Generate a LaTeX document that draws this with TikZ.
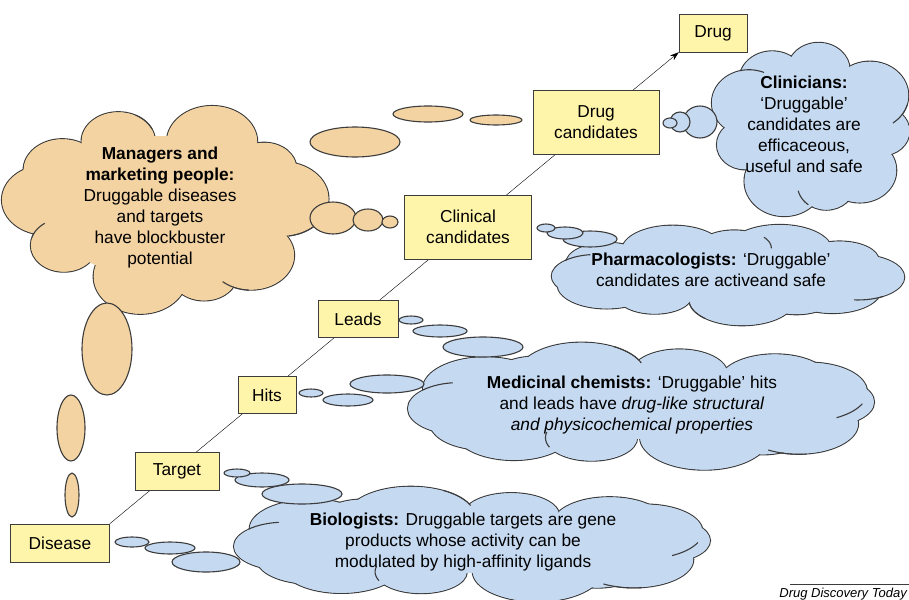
\documentclass[tikz,border=0pt]{standalone}
\usepackage{fontspec}
\setmainfont{Liberation Sans}
\usepackage{tikz}
\usetikzlibrary{positioning,arrows.meta}
\pgfdeclarelayer{background}
\pgfdeclarelayer{foreground}
\pgfsetlayers{background,main,foreground}
\definecolor{boxyellow}{RGB}{255,245,170}
\definecolor{tanfill}{RGB}{243,211,162}
\definecolor{bluefill}{RGB}{197,217,241}
\definecolor{edgegray}{RGB}{60,60,60}

% cloud: colour, centre x, centre y, half axes of puff ring, puffs, puff radii, crease phase
\newcommand{\drawcloud}[9]{%
	\foreach \i in {1,...,#6} {
		\pgfmathsetmacro\pang{360*\i/#6 + 7*sin(\i*97)}
		\pgfmathsetmacro\psz{1+0.18*sin(\i*151)}
		\draw[draw=edgegray, line width=1.1pt, fill=#1] ({#2+#4*cos(\pang)},{#3+#5*sin(\pang)}) ellipse ({#7*\psz pt} and {#8*\psz pt});
	}
	\fill[#1] (#2,#3) ellipse ({#4 pt} and {#5 pt});
	\foreach \i in {1,...,#6} {
		\pgfmathsetmacro\pang{360*\i/#6 + 7*sin(\i*97)}
		\pgfmathsetmacro\psz{1+0.18*sin(\i*151)}
		\fill[#1] ({#2+#4*cos(\pang)},{#3+#5*sin(\pang)}) ellipse ({#7*\psz pt - 0.6pt} and {#8*\psz pt - 0.6pt});
	}
	% creases
	\foreach \i in {1,...,#6} {
		\pgfmathtruncatemacro\pick{mod(\i,3)}
		\ifnum\pick=#9
		\pgfmathsetmacro\pang{360*\i/#6 + 7*sin(\i*97)}
		\pgfmathsetmacro\psz{1+0.18*sin(\i*151)}
		\pgfmathsetmacro\pcx{#2+#4*cos(\pang)}
		\pgfmathsetmacro\pcy{#3+#5*sin(\pang)}
		\draw[edgegray, line width=1.1pt] plot[domain=\pang+50:\pang+88, variable=\p, samples=10, smooth] ({\pcx+#7*\psz*cos(\p)},{\pcy+#8*\psz*sin(\p)});
		\fi
	}
}

\begin{document}
\begin{tikzpicture}[x=1pt,y=-1pt,
			stagebox/.style={rectangle, draw=edgegray, fill=boxyellow, align=center, inner sep=0pt, font=\fontsize{17.3}{21}\selectfont},
			tanbub/.style={draw=edgegray, line width=1.1pt, fill=tanfill},
			bluebub/.style={draw=edgegray, line width=1.1pt, fill=bluefill},
			cloudtext/.style={align=center, font=\fontsize{17.3}{21}\selectfont},
			]
			\useasboundingbox (0,0) rectangle (909,599);
			%Clouds
			\drawcloud{tanfill}{164}{207}{119}{71}{10}{40}{32}{1}
			\drawcloud{bluefill}{812}{128}{70}{58}{9}{34}{30}{2}
			\drawcloud{bluefill}{727}{274}{132}{26}{12}{45}{22}{0}
			\drawcloud{bluefill}{643}{406}{185}{33}{14}{55}{28}{1}
			\drawcloud{bluefill}{474}{544}{190}{29}{14}{55}{26}{1}
			
			%Bubbles
			\foreach \x/\y/\rx/\ry in {333/218/23/16, 368/220/15/11, 390/222/8/6,
				355/142/45/15, 428/114/35/8, 496/120/26/5,
				107/349/25/46, 71/428/14/33, 72/495/7/22}
				\draw[tanbub] (\x,\y) ellipse ({\rx pt} and {\ry pt});
			\foreach \x/\y/\rx/\ry in {700/122/17/16, 680/122/10/10, 670/123/7/5,
				590/239/27/8, 565/233/18/6, 546/228/9/4,
				483/347/40/10, 440/331/27/6, 411/320/12/4,
				387/384/37/9, 348/400/25/6, 311/393/12/4,
				302/494/40/10, 262/480/27/7, 237/473/13/4,
				206/562/34/10, 170/548/25/6, 132/542/17/5}
				\draw[bluebub] (\x,\y) ellipse ({\rx pt} and {\ry pt});
			
			%Stages
			\node[stagebox, minimum width=68pt, minimum height=38pt]  (drug)    at (713,33)  {Drug};
			\node[stagebox, minimum width=126pt, minimum height=64pt] (dcand)   at (596,122) {Drug\\candidates};
			\node[stagebox, minimum width=127pt, minimum height=64pt] (ccand)   at (468,227) {Clinical\\candidates};
			\node[stagebox, minimum width=80pt, minimum height=37pt]  (leads)   at (358,319) {Leads};
			\node[stagebox, minimum width=58pt, minimum height=37pt]  (hits)    at (267,395) {Hits};
			\node[stagebox, minimum width=84pt, minimum height=38pt]  (target)  at (177,471) {Target};
			\node[stagebox, minimum width=99pt, minimum height=38pt]  (disease) at (60,543)  {Disease};
			
			%Texts
			\node[cloudtext] (mgrtext)   at (160,208) {\textbf{Managers and}\\\textbf{marketing people:}\\Druggable diseases\\and targets\\have blockbuster\\potential};
			\node[cloudtext] (clintext)  at (804,124) {\textbf{Clinicians:}\\`Druggable'\\candidates are\\efficaceous,\\useful and safe};
			\node[cloudtext] (pharmtext) at (711,270) {\textbf{Pharmacologists:} `Druggable'\\candidates are activeand safe};
			\node[cloudtext] (medtext)   at (632,405) {\textbf{Medicinal chemists:} `Druggable' hits\\and leads have \textit{drug-like structural}\\\textit{and physicochemical properties}};
			\node[cloudtext] (biotext)   at (463,542) {\textbf{Biologists:} Druggable targets are gene\\products whose activity can be\\modulated by high-affinity ligands};
			
			%Footer
			\coordinate (footl) at (790,584);
			\coordinate (footr) at (909,584);
			\draw[edgegray, thin] (footl) -- (footr);
			\node[anchor=north east, inner sep=0pt, font=\fontsize{13}{15}\selectfont\itshape] (source) at (907,588) {Drug Discovery Today};
			
			\begin{pgfonlayer}{background}
			\draw[thin, -{Stealth[length=9pt, width=6pt]}] (disease.north east) -- (drug.south west);
			\end{pgfonlayer}
\end{tikzpicture}
\end{document}
